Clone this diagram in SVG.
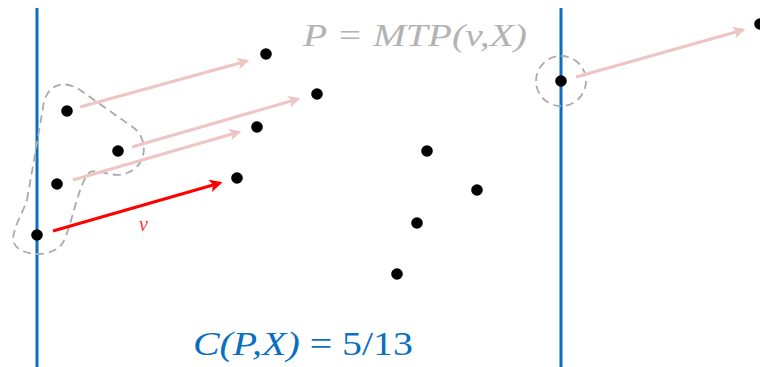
<svg xmlns="http://www.w3.org/2000/svg" width="760" height="367" viewBox="0 0 760 367">
<style>
.pt{fill:#000}
.axis{stroke:#0a6fc2;stroke-width:3;fill:none}
.pink{stroke:#efc4c4;stroke-width:3;fill:none}
.red{stroke:#ff0000;stroke-width:3;fill:none}
.dash{stroke:#aaaaaa;stroke-width:1.8;fill:none;stroke-dasharray:8 5}
.lbl{font-family:"Liberation Serif","DejaVu Serif",serif;font-style:italic}
</style>
<defs>
<marker id="ap" viewBox="0 0 10 10" refX="8" refY="5" markerWidth="4" markerHeight="4" orient="auto" markerUnits="strokeWidth"><path d="M0,0 L10,5 L0,10 L2.5,5 Z" fill="#efc4c4"/></marker>
<marker id="ar" viewBox="0 0 10 10" refX="8" refY="5" markerWidth="4.3" markerHeight="4.3" orient="auto" markerUnits="strokeWidth"><path d="M0,0 L10,5 L0,10 L2.5,5 Z" fill="#ff0000"/></marker>
</defs>
<g id="axes">
<line class="axis" x1="37" y1="8" x2="37" y2="367"/>
<line class="axis" x1="561" y1="8" x2="561" y2="367"/>
</g>
<g id="regions">
<path class="dash" d="M27 200 L43 108 C45 86 62 78 80 90 L134 128 C149 140 147 166 127 173 C112 179 100 168 90 172 C78 182 72 228 62 244 C52 258 20 257 14 243 C10 233 22 215 27 200 Z"/>
<circle class="dash" cx="561" cy="81" r="25"/>
</g>
<g id="connectors">
<line class="pink" x1="80" y1="107" x2="247" y2="61" marker-end="url(#ap)"/>
<line class="pink" x1="132" y1="147" x2="298" y2="99" marker-end="url(#ap)"/>
<line class="pink" x1="73" y1="180" x2="239" y2="132" marker-end="url(#ap)"/>
<line class="pink" x1="576" y1="77" x2="743" y2="30" marker-end="url(#ap)"/>
<line class="red" x1="53" y1="231" x2="220" y2="183" marker-end="url(#ar)"/>
<text class="lbl" x="139" y="231" font-size="20" fill="#ff3333">v</text>
</g>
<g id="points">
<circle class="pt" cx="37" cy="235" r="5.8"/>
<circle class="pt" cx="57" cy="184" r="5.8"/>
<circle class="pt" cx="67" cy="111" r="5.8"/>
<circle class="pt" cx="118" cy="151" r="5.8"/>
<circle class="pt" cx="237" cy="178" r="5.8"/>
<circle class="pt" cx="257" cy="127" r="5.8"/>
<circle class="pt" cx="266" cy="54" r="5.8"/>
<circle class="pt" cx="317" cy="94" r="5.8"/>
<circle class="pt" cx="427" cy="151" r="5.8"/>
<circle class="pt" cx="477" cy="190" r="5.8"/>
<circle class="pt" cx="417" cy="223" r="5.8"/>
<circle class="pt" cx="397" cy="274" r="5.8"/>
<circle class="pt" cx="561" cy="81" r="5.8"/>
<circle class="pt" cx="760" cy="24" r="5.8"/>
</g>
<g id="titles">
<text class="lbl" x="303" y="46" font-size="31" fill="#b3b3b3" textLength="224" lengthAdjust="spacingAndGlyphs">P = MTP(v,X)</text>
<text x="193" y="355" font-size="33" fill="#0a6fc2" font-family="Liberation Serif,'DejaVu Serif',serif" textLength="220" lengthAdjust="spacingAndGlyphs"><tspan font-style="italic">C(P,X)</tspan> = 5/13</text>
</g>
</svg>
